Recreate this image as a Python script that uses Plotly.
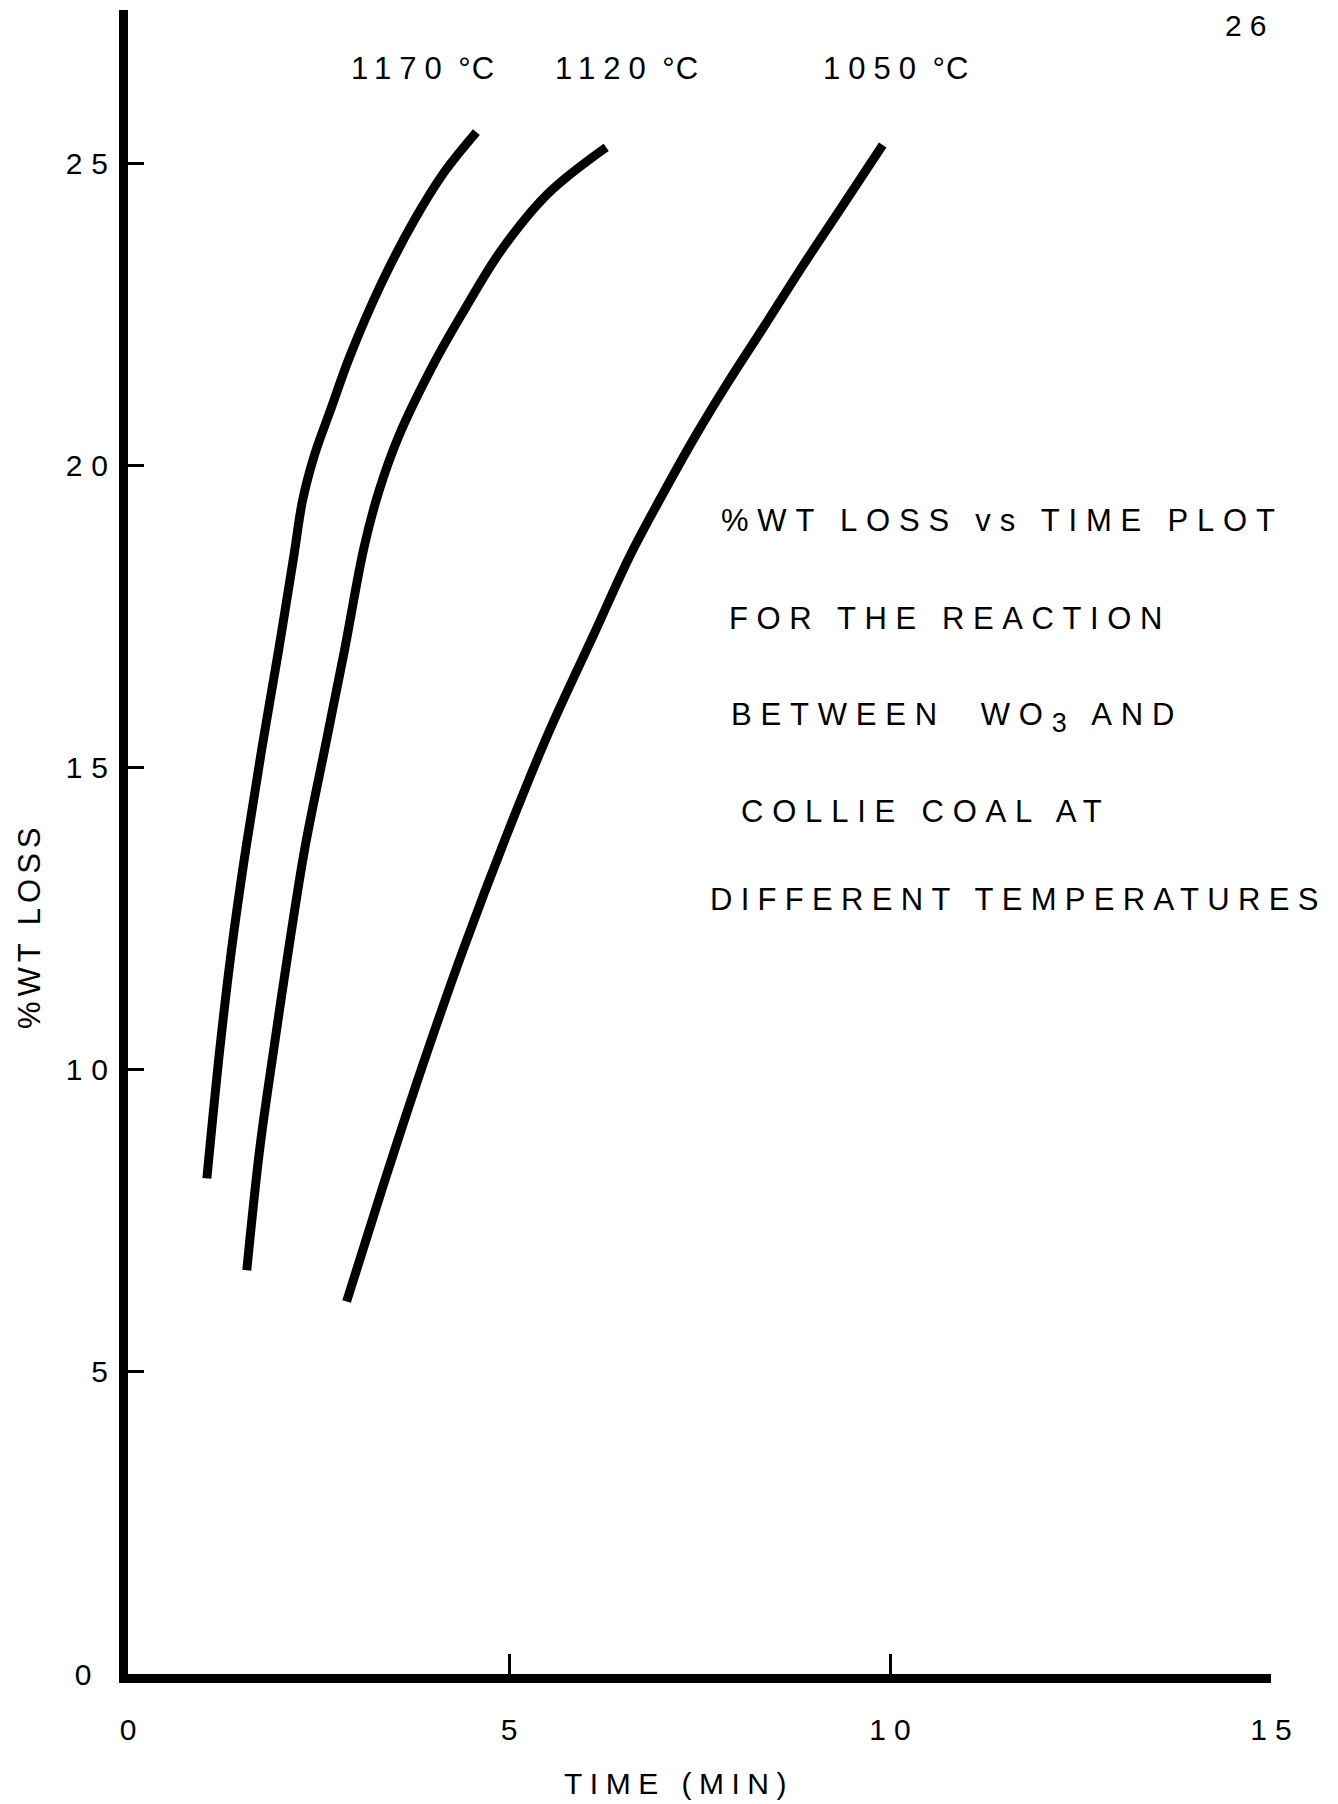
import plotly.graph_objects as go

# ---- data ----
time_1170 = [1.035, 1.205, 1.36, 1.546, 1.755, 1.978, 2.175, 2.293, 2.450, 2.660, 2.908, 3.33, 3.76, 4.14, 4.572]
loss_1170 = [8.20, 10.34, 12.0, 13.65, 15.30, 16.95, 18.49, 19.43, 20.18, 20.92, 21.79, 23.02, 24.06, 24.83, 25.51]

time_1120 = [1.559, 1.729, 1.913, 2.109, 2.319, 2.581, 2.843, 3.092, 3.288, 3.550, 4.022, 4.415, 4.900, 5.516, 6.275]
loss_1120 = [6.68, 8.69, 10.34, 12.0, 13.65, 15.30, 16.95, 18.61, 19.55, 20.47, 21.70, 22.57, 23.56, 24.50, 25.26]

time_1050 = [2.869, 3.336, 3.865, 4.402, 4.985, 5.522, 6.125, 6.583, 6.965, 7.449, 7.880, 8.345, 8.863, 9.393, 9.904]
loss_1050 = [6.163, 8.031, 10.063, 11.996, 13.929, 15.582, 17.234, 18.490, 19.399, 20.489, 21.382, 22.290, 23.315, 24.323, 25.298]

series_temps = ["1170", "1120", "1050"]

x_tickvals = [0, 5, 10, 15]
x_ticktext = ["0", "5", "10", "15"]
y_tickvals = [0, 5, 10, 15, 20, 25]
y_ticktext = ["0", "5", "10", "15", "20", "25"]

title_lines = [
    "%WT LOSS vs TIME PLOT",
    "FOR THE REACTION",
    "BETWEEN\u00a0 WO<sub><span style=\"font-size:27px\">3</span></sub> AND",
    "COLLIE COAL AT",
    "DIFFERENT TEMPERATURES",
]
x_title = "TIME (MIN)"
y_title = "%WT LOSS"
page_number = "26"

# ---- layout helpers ----
W, H = 1338, 1804
L, R, T, B = 128.0, 1271.0, 10.0, 1674.0
Y_PER_UNIT = 60.44
FONT = "Liberation Sans, Arial, Helvetica, sans-serif"


def sp(text, ls):
    return f'<span style="letter-spacing:{ls}px">{text}</span>'


def sp_inner(text, ls):
    # letter spacing between characters only (no trailing gap)
    if len(text) < 2:
        return text
    return sp(text[:-1], ls) + text[-1]


def pxx(x):
    return (x - L) / (R - L)


def pyy(y):
    return (B - y) / (B - T)


fig = go.Figure()
for t, w, name in [(time_1170, loss_1170, series_temps[0] + " °C"),
                   (time_1120, loss_1120, series_temps[1] + " °C"),
                   (time_1050, loss_1050, series_temps[2] + " °C")]:
    fig.add_trace(go.Scatter(
        x=t, y=w, mode="lines", name=name, showlegend=False,
        line=dict(color="black", width=9, shape="spline", smoothing=1.0),
        hoverinfo="x+y+name",
    ))

y_labels = [sp_inner(s, 9) for s in y_ticktext]
y_labels[0] = y_ticktext[0] + "\u2007"   # the origin label sits a little further left

fig.update_xaxes(
    range=[0, 15], showgrid=False, zeroline=False,
    showline=True, linecolor="black", linewidth=9,
    ticks="inside", ticklen=20, tickwidth=2.5, tickcolor="black",
    tickvals=x_tickvals, ticktext=[sp_inner(s, 8) for s in x_ticktext],
    tickfont=dict(family=FONT, size=30, color="black"),
    ticklabelstandoff=21,
)
fig.update_yaxes(
    range=[0, (B - T) / Y_PER_UNIT], showgrid=False, zeroline=False,
    showline=True, linecolor="black", linewidth=9,
    ticks="inside", ticklen=16, tickwidth=3, tickcolor="black",
    tickvals=y_tickvals, ticktext=y_labels,
    tickfont=dict(family=FONT, size=30, color="black"),
    ticklabelstandoff=5,
)

ann = []
# temperature labels
for temp, cx in zip(series_temps, [422, 626, 895]):
    ann.append(dict(x=pxx(cx), y=pyy(69), xref="paper", yref="paper",
                    text=sp(temp, 8) + "\u00a0" + sp_inner("°C", 1),
                    showarrow=False, xanchor="center", yanchor="middle",
                    font=dict(family=FONT, size=31, color="black")))
# description block
for line, lx, cy, ls in zip(title_lines, [719, 727, 729, 739, 708], [520, 618, 717, 811, 899],
                            [8.8, 8.6, 8.8, 8.8, 8.3]):
    ann.append(dict(x=pxx(lx), y=pyy(cy), xref="paper", yref="paper",
                    text=sp(line, ls), showarrow=False, xanchor="left", yanchor="middle",
                    font=dict(family=FONT, size=31, color="black")))
# axis titles
ann.append(dict(x=pxx(675), y=pyy(1783), xref="paper", yref="paper",
                text=sp_inner(x_title, 7.5), showarrow=False, xanchor="center", yanchor="middle",
                font=dict(family=FONT, size=30, color="black")))
ann.append(dict(x=pxx(29), y=pyy(928), xref="paper", yref="paper",
                text=sp_inner(y_title, 5), showarrow=False, xanchor="center", yanchor="middle",
                textangle=-90, font=dict(family=FONT, size=31, color="black")))
# page number
ann.append(dict(x=pxx(1245), y=pyy(25), xref="paper", yref="paper",
                text=sp_inner(page_number, 8), showarrow=False, xanchor="center", yanchor="middle",
                font=dict(family=FONT, size=30, color="black")))

fig.update_layout(
    width=W, height=H,
    margin=dict(l=L, r=W - R, t=T, b=H - B, pad=0),
    paper_bgcolor="white", plot_bgcolor="white",
    annotations=ann,
    font=dict(family=FONT, color="black"),
)

fig.write_html("out.html")
